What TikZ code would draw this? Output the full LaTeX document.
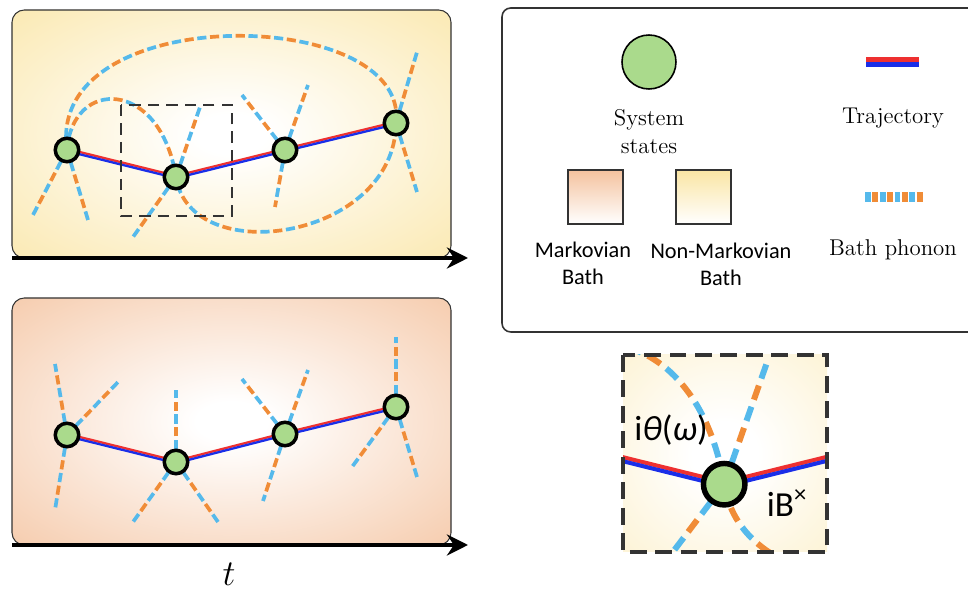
\documentclass[tikz,border=0pt]{standalone}
\usepackage{fontspec}
\newfontfamily\calibri{Carlito}
\usetikzlibrary{arrows.meta}

\definecolor{phorange}{HTML}{F08C37}
\definecolor{phblue}{HTML}{55B9EB}
\definecolor{stategreen}{HTML}{AADA8C}
\definecolor{nmyellow}{HTML}{FAE5A4}
\definecolor{mpeach}{HTML}{F4C29E}
\definecolor{edgegray}{HTML}{333333}
\definecolor{trajred}{HTML}{EE3030}
\definecolor{trajblue}{HTML}{1A2EE8}

\pgfdeclareradialshading{nmglow}{\pgfpoint{0bp}{0bp}}{color(0bp)=(white); color(4bp)=(white); color(42bp)=(nmyellow); color(72bp)=(nmyellow)}
\pgfdeclareradialshading{mkglow}{\pgfpoint{0bp}{0bp}}{color(0bp)=(white); color(4bp)=(white); color(42bp)=(mpeach); color(72bp)=(mpeach)}
\pgfdeclareradialshading{insetglow}{\pgfpoint{0bp}{0bp}}{color(0bp)=(white); color(8bp)=(white); color(48bp)=(nmyellow!65); color(72bp)=(nmyellow!65)}

\begin{document}
\begin{tikzpicture}[x=0.02cm, y=-0.02cm,
    panel/.style={draw=edgegray, line width=0.6pt, rounded corners=7pt},
    state/.style={circle, draw=black, line width=2pt, fill=stategreen,
                  minimum size=0.47cm, inner sep=0pt},
    phonon/.style={line width=2.1pt, draw=phorange, dash pattern=on 5.2pt off 9.4pt,
                   preaction={draw=phblue, line width=2.1pt,
                              dash pattern=on 5.2pt off 9.4pt, dash phase=7.3pt}},
    bigphonon/.style={line width=3.4pt, draw=phorange, dash pattern=on 8.5pt off 17pt,
                      preaction={draw=phblue, line width=3.4pt,
                                 dash pattern=on 8.5pt off 17pt, dash phase=12.75pt}},
    trajr/.style={draw=trajred, line width=1.3pt, transform canvas={yshift=0.65pt}},
    trajb/.style={draw=trajblue, line width=1.3pt, transform canvas={yshift=-0.65pt}},
    zoombox/.style={draw=edgegray, line width=1.1pt, dash pattern=on 6.5pt off 4pt},
    axis/.style={line width=2.3pt, -{Stealth[length=12pt, width=12pt, inset=4pt]}},
    serif/.style={font=\fontsize{13}{16}\selectfont, align=center},
    sans/.style={font=\calibri\fontsize{12.7}{15.3}\selectfont, align=center}
  ]
  \useasboundingbox (0,0) rectangle (968,590);

  % Panels
  \shadedraw[panel, shading=nmglow] (12,10) rectangle (451,258);
  \shadedraw[panel, shading=mkglow] (12,298) rectangle (451,545);

  % State positions
  \coordinate (nm1) at (67,150);
  \coordinate (nm2) at (176,177);
  \coordinate (nm3) at (285,150);
  \coordinate (nm4) at (396,123);
  \coordinate (mk1) at (67,435);
  \coordinate (mk2) at (176,462);
  \coordinate (mk3) at (285,434);
  \coordinate (mk4) at (396,407);

  % Non-Markovian phonons
  \draw[phonon] (nm1) .. controls (45,0) and (410,5) .. (nm4);
  \draw[phonon] (nm1) .. controls (72,78) and (160,78) .. (nm2)
                      .. controls (190,270) and (395,240) .. (nm4);
  \draw[phonon] (nm1) -- (33,215);
  \draw[phonon] (nm1) -- (88,220);
  \draw[phonon] (nm2) -- (133,237);
  \draw[phonon] (nm2) -- (200,107);
  \draw[phonon] (nm3) -- (242,95);
  \draw[phonon] (nm3) -- (308,85);
  \draw[phonon] (nm3) -- (275,207);
  \draw[phonon] (nm4) -- (417,52);
  \draw[phonon] (nm4) -- (417,192);

  % Markovian phonons
  \draw[phonon] (mk1) -- (55,364);
  \draw[phonon] (mk1) -- (120,380);
  \draw[phonon] (mk1) -- (55,510);
  \draw[phonon] (mk2) -- (176,390);
  \draw[phonon] (mk2) -- (133,522);
  \draw[phonon] (mk2) -- (218,522);
  \draw[phonon] (mk3) -- (242,379);
  \draw[phonon] (mk3) -- (308,370);
  \draw[phonon] (mk3) -- (263,501);
  \draw[phonon] (mk4) -- (396,337);
  \draw[phonon] (mk4) -- (352,467);
  \draw[phonon] (mk4) -- (417,477);

  % Trajectories
  \draw[trajr] (nm1) -- (nm2) -- (nm3) -- (nm4);
  \draw[trajb] (nm1) -- (nm2) -- (nm3) -- (nm4);
  \draw[trajr] (mk1) -- (mk2) -- (mk3) -- (mk4);
  \draw[trajb] (mk1) -- (mk2) -- (mk3) -- (mk4);

  \draw[zoombox] (121,105) rectangle (232,216);

  % States
  \foreach \s in {nm1,nm2,nm3,nm4,mk1,mk2,mk3,mk4}
    \node[state] (\s s) at (\s) {};

  % Time axes
  \coordinate (ax1l) at (12,258);
  \coordinate (ax1r) at (468,258);
  \coordinate (ax2l) at (12,545);
  \coordinate (ax2r) at (468,545);
  \draw[axis] (ax1l) -- (ax1r);
  \draw[axis] (ax2l) -- (ax2r);
  \node[font=\fontsize{22}{26}\selectfont] (tlabel) at (229,574) {$t$};

  % Legend
  \draw[edgegray, line width=0.9pt, rounded corners=5pt] (502,8) rectangle (990,332);
  \node[state, minimum size=1.08cm, line width=0.9pt] (keystate) at (649,62) {};
  \node[serif] (keystatetxt) at (649,132) {System\\states};
  \coordinate (keytrajl) at (866,62);
  \coordinate (keytrajr) at (919,62);
  \draw[draw=trajred, line width=2.8pt, transform canvas={yshift=1.4pt}] (keytrajl) -- (keytrajr);
  \draw[draw=trajblue, line width=2.8pt, transform canvas={yshift=-1.4pt}] (keytrajl) -- (keytrajr);
  \node[serif] (keytrajtxt) at (893,118) {Trajectory};
  \shadedraw[draw=edgegray, line width=0.9pt, top color=mpeach, bottom color=white]
    (568,170) rectangle (623,224);
  \shadedraw[draw=edgegray, line width=0.9pt, top color=nmyellow, bottom color=white]
    (676,170) rectangle (731,224);
  \node[sans] (keymktxt) at (583,263) {Markovian\\Bath};
  \node[sans] (keynmtxt) at (721,264) {Non-Markovian\\Bath};
  \coordinate (keyphl) at (865,197);
  \coordinate (keyphr) at (924,197);
  \draw[phblue, line width=5.7pt, dash pattern=on 3.4pt off 5pt] (keyphl) -- (keyphr);
  \draw[phorange, line width=5.7pt, dash pattern=on 3.4pt off 5pt, dash phase=4.2pt]
    (keyphl) -- (keyphr);
  \node[serif] (keyphtxt) at (893,250) {Bath phonon};

  % Zoomed vertex
  \begin{scope}
    \clip (623,355) rectangle (827,552);
    \shade[shading=insetglow] (623,355) rectangle (827,552);
    \begin{scope}[shift={(623,355)}, xscale=1.84, yscale=1.77, shift={(-121,-105)}]
      \coordinate (zl) at (67,150);
      \coordinate (zc) at (176,178);
      \coordinate (zr) at (285,150);
      \draw[bigphonon] (67,150) .. controls (72,78) and (160,78) .. (zc)
                       .. controls (190,270) and (395,240) .. (396,123);
      \draw[bigphonon] (zc) -- (133,237);
      \draw[bigphonon] (zc) -- (200,107);
      \draw[draw=trajred, line width=2.3pt, transform canvas={yshift=1.15pt}] (zl) -- (zc) -- (zr);
      \draw[draw=trajblue, line width=2.3pt, transform canvas={yshift=-1.15pt}] (zl) -- (zc) -- (zr);
    \end{scope}
  \end{scope}
  \node[state, minimum size=0.83cm, line width=3.1pt] (zoomstate) at (zc) {};
  \draw[draw=edgegray, line width=2.3pt, dash pattern=on 9.5pt off 5pt] (623,355) rectangle (827,552);
  \node[font=\calibri\fontsize{20}{24}\selectfont] (thetalbl) at (671,430) {i{\itshape θ}({\itshape ω})};
  \node[font=\calibri\fontsize{20}{24}\selectfont] (bxlbl) at (787,503) {iB\textsuperscript{×}};
\end{tikzpicture}
\end{document}
